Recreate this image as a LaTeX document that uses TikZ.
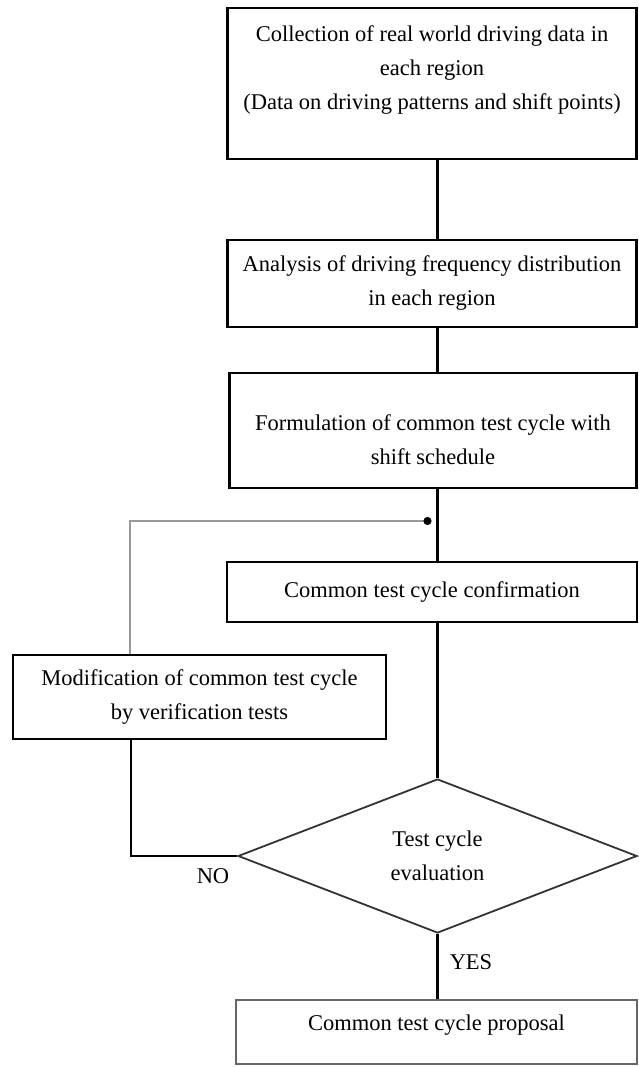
\documentclass[tikz,border=0pt]{standalone}
\usepackage{fontspec}
\setmainfont{Liberation Serif}
\usetikzlibrary{shapes.geometric, arrows.meta}

\begin{document}
\begin{tikzpicture}[x=1pt, y=-1pt,
    font=\fontsize{22.5}{34}\selectfont,
    stepbox/.style={draw, line width=2.2pt, align=center, inner sep=0pt},
    decide/.style={draw=black!80, diamond, line width=1.8pt, align=center, inner sep=0pt},
    link/.style={line width=2.2pt},
    back/.style={line width=2.2pt, draw=black!40}]
    \useasboundingbox (0,0) rectangle (638,1067);
    % main column
    \node[stepbox, minimum width=409pt, minimum height=151pt, text depth=31pt] (collect) at (432,83.5)
        {Collection of real world driving data in\\each region\\(Data on driving patterns and shift points)};
    \node[stepbox, minimum width=409pt, minimum height=87pt] (analysis) at (432,283.5)
        {Analysis of driving frequency distribution\\in each region};
    \node[stepbox, minimum width=407pt, minimum height=115pt, text height=68pt] (formulate) at (433,430.5)
        {Formulation of common test cycle with\\shift schedule};
    \node[stepbox, minimum width=410pt, minimum height=60pt] (confirm) at (432,592)
        {Common test cycle confirmation};
    \node[decide, minimum width=399pt, minimum height=154pt] (evaluate) at (437.5,856)
        {Test cycle\\evaluation};
    \node[stepbox, draw=black!60, minimum width=401pt, minimum height=64pt, text depth=19pt] (proposal) at (436.5,1032)
        {Common test cycle proposal};
    % feedback branch
    \node[stepbox, minimum width=373pt, minimum height=84pt] (modify) at (199.5,697)
        {Modification of common test cycle\\by verification tests};
    \coordinate (merge) at (437.5,521);
    \node (no) at (213,876) {NO};
    \node (yes) at (471,962) {YES};

    \draw[link] (collect.south -| merge) -- (analysis.north -| merge);
    \draw[link] (analysis.south -| merge) -- (formulate.north -| merge);
    \draw[link] (formulate.south -| merge) -- (confirm.north -| merge);
    \draw[link] (confirm.south -| merge) -- (evaluate.north);
    \draw[link] (evaluate.south) -- (proposal.north -| evaluate.south);
    \draw[link] (evaluate.west) -| (modify.south -| 131,0);
    \draw[back, -{Circle[length=8pt, color=black]}] (modify.north -| 130,0) |- ([xshift=-6pt]merge);
\end{tikzpicture}
\end{document}
